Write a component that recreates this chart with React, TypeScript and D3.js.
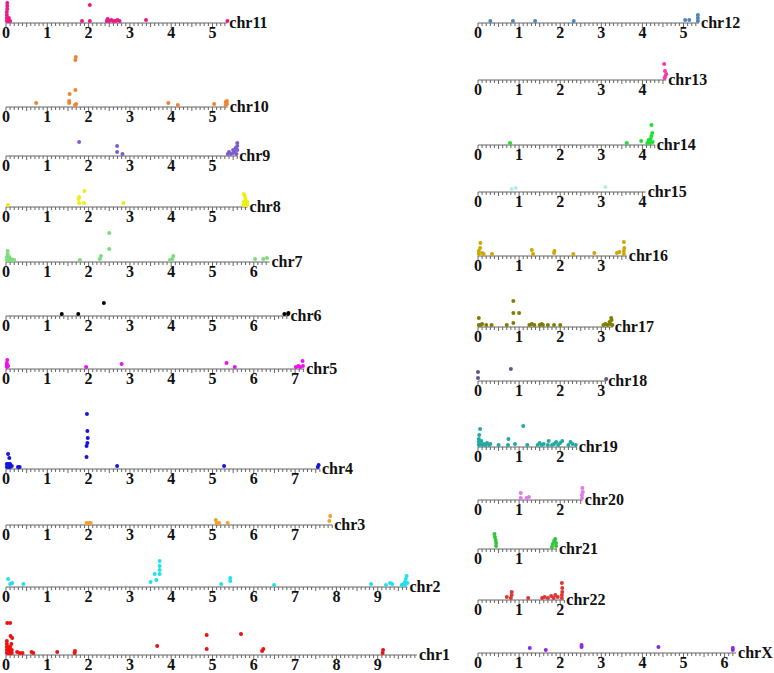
import * as d3 from 'd3';

// chromosome names, lengths (axis units) and colours
const leftChroms = ['chr11', 'chr10', 'chr9', 'chr8', 'chr7', 'chr6', 'chr5', 'chr4', 'chr3', 'chr2', 'chr1'];
const rightChroms = ['chr12', 'chr13', 'chr14', 'chr15', 'chr16', 'chr17', 'chr18', 'chr19', 'chr20', 'chr21', 'chr22', 'chrX'];

const lengths: Record<string, number> = {
  chr1: 9.95, chr2: 9.72, chr3: 7.9, chr4: 7.6, chr5: 7.22, chr6: 6.84, chr7: 6.38,
  chr8: 5.85, chr9: 5.6, chr10: 5.37, chr11: 5.36, chr12: 5.38, chr13: 4.58, chr14: 4.3,
  chr15: 4.08, chr16: 3.62, chr17: 3.28, chr18: 3.12, chr19: 2.4, chr20: 2.55,
  chr21: 1.92, chr22: 2.1, chrX: 6.28,
};

const colors: Record<string, string> = {
  chr1: '#ee1111', chr2: '#22e0ee', chr3: '#f2a22a', chr4: '#1515dd', chr5: '#ee11ee',
  chr6: '#000000', chr7: '#7ddc7d', chr8: '#eeee11', chr9: '#7f5ccc', chr10: '#f08530',
  chr11: '#ec1a86', chr12: '#4a86c0', chr13: '#f83aa8', chr14: '#22dd33', chr15: '#b0eeee',
  chr16: '#cca800', chr17: '#7e7e00', chr18: '#5a5a90', chr19: '#22aaa2', chr20: '#e07ae8',
  chr21: '#33c43a', chr22: '#e03535', chrX: '#8a2be2',
};

// points: [position, score]
const points: Record<string, [number, number][]> = {
  chr1: [[0.02, 2], [0.02, 5], [0.02, 8], [0.02, 11], [0.02, 14], [0.06, 2], [0.06, 5], [0.06, 8], [0.1, 2], [0.1, 5], [0.1, 8], [0.14, 2], [0.14, 5], [0.03, 32], [0.1, 32], [0.11, 19], [0.15, 17], [0.13, 11], [0.27, 3], [0.33, 2], [0.4, 2], [0.62, 3], [0.66, 2], [1.24, 3], [1.66, 2], [1.67, 4], [3.66, 9], [4.86, 6], [4.86, 20], [5.69, 21], [6.2, 4], [6.23, 6], [9.12, 2], [9.13, 5]],
  chr2: [[0.05, 8], [0.1, 3], [0.15, 4], [0.42, 3], [3.5, 5], [3.6, 13], [3.64, 7], [3.72, 13], [3.72, 17], [3.72, 21], [3.72, 26], [5.21, 3], [5.43, 6], [5.43, 9], [6.49, 2], [8.84, 3], [9.2, 2], [9.3, 4], [9.35, 3], [9.58, 2], [9.62, 3], [9.66, 2], [9.66, 5], [9.68, 8], [9.7, 11], [9.72, 4]],
  chr3: [[1.95, 2], [2.0, 2], [2.05, 2], [5.08, 5], [5.1, 2], [5.16, 2], [5.37, 2], [7.83, 4], [7.85, 9]],
  chr4: [[0.02, 2], [0.02, 5], [0.06, 2], [0.06, 5], [0.1, 2], [0.1, 5], [0.14, 3], [0.05, 15], [0.08, 11], [0.29, 2], [0.33, 2], [1.95, 12], [1.95, 23], [1.97, 26], [1.98, 31], [1.97, 38], [1.96, 55], [2.69, 3], [5.28, 3], [7.55, 2], [7.57, 4]],
  chr5: [[0.02, 2], [0.02, 4], [0.02, 6], [0.05, 3], [0.03, 9], [1.94, 2], [2.8, 5], [5.34, 6], [5.54, 2], [7.02, 2], [7.08, 3], [7.12, 2], [7.18, 8], [7.19, 3]],
  chr6: [[1.35, 2], [1.75, 2], [2.37, 13], [6.74, 2], [6.83, 2], [6.84, 3]],
  chr7: [[0.02, 2], [0.02, 5], [0.04, 8], [0.04, 11], [0.08, 2], [0.08, 5], [0.12, 3], [0.16, 2], [0.2, 2], [1.79, 2], [2.27, 3], [2.3, 6], [2.5, 13], [2.5, 29], [3.97, 2], [4.03, 3], [4.05, 6], [6.03, 3], [6.23, 3], [6.32, 4]],
  chr8: [[0.05, 2], [1.77, 4], [1.76, 8], [1.77, 10], [1.89, 4], [1.9, 16], [2.84, 4], [5.75, 2], [5.75, 5], [5.8, 2], [5.8, 5], [5.8, 8], [5.84, 2], [5.84, 5], [5.78, 11], [5.76, 13]],
  chr9: [[1.77, 14], [2.69, 10], [2.69, 4], [2.82, 2], [5.37, 2], [5.4, 4], [5.45, 2], [5.5, 3], [5.5, 6], [5.54, 4], [5.56, 8], [5.58, 2], [5.6, 6], [5.6, 10], [5.6, 13]],
  chr10: [[0.73, 4], [1.53, 4], [1.53, 6], [1.54, 13], [1.67, 2], [1.7, 3], [1.68, 17], [1.68, 47], [1.69, 50], [3.93, 4], [4.16, 2], [5.04, 3], [5.32, 2], [5.32, 5], [5.35, 3], [5.35, 6]],
  chr11: [[0.02, 2], [0.02, 5], [0.02, 8], [0.02, 11], [0.03, 14], [0.03, 17], [0.03, 20], [0.07, 2], [0.07, 5], [0.1, 2], [1.84, 2], [2.03, 2], [2.03, 18], [2.44, 2], [2.46, 4], [2.5, 2], [2.55, 3], [2.6, 2], [2.65, 2], [2.7, 3], [2.75, 2], [3.39, 3], [5.36, 2]],
  chr12: [[0.3, 2], [0.85, 2], [1.39, 2], [2.33, 2], [5.04, 3], [5.14, 3], [5.35, 2], [5.35, 5], [5.35, 8]],
  chr13: [[4.54, 2], [4.56, 4], [4.58, 6], [4.55, 9], [4.53, 16]],
  chr14: [[0.78, 2], [3.62, 2], [3.97, 4], [4.12, 2], [4.15, 5], [4.18, 2], [4.2, 6], [4.22, 9], [4.25, 3], [4.24, 12], [4.22, 20]],
  chr15: [[0.82, 3], [0.92, 4], [3.1, 5]],
  chr16: [[0.02, 2], [0.02, 5], [0.05, 8], [0.06, 13], [0.1, 3], [0.14, 2], [0.34, 2], [1.31, 6], [1.34, 2], [1.85, 3], [1.86, 5], [2.32, 2], [2.83, 3], [3.38, 3], [3.44, 4], [3.55, 2], [3.55, 5], [3.56, 8], [3.55, 14]],
  chr17: [[0.02, 2], [0.02, 9], [0.06, 2], [0.1, 3], [0.2, 2], [0.33, 2], [0.7, 2], [0.86, 4], [0.86, 14], [0.86, 26], [1.0, 14], [1.25, 2], [1.31, 3], [1.37, 2], [1.5, 2], [1.55, 3], [1.58, 2], [1.7, 2], [1.85, 2], [2.0, 2], [3.05, 2], [3.1, 3], [3.15, 2], [3.2, 5], [3.22, 3], [3.25, 7], [3.27, 2], [3.24, 9]],
  chr18: [[0.0, 3], [0.0, 9], [0.8, 12], [3.12, 2]],
  chr19: [[0.02, 2], [0.02, 5], [0.02, 8], [0.03, 12], [0.05, 18], [0.06, 3], [0.08, 6], [0.1, 2], [0.14, 3], [0.18, 2], [0.22, 4], [0.27, 2], [0.3, 3], [0.5, 2], [0.73, 2], [0.74, 8], [0.9, 3], [1.1, 21], [1.2, 2], [1.45, 2], [1.5, 4], [1.55, 2], [1.6, 3], [1.7, 2], [1.72, 6], [1.8, 2], [1.85, 3], [1.9, 5], [1.95, 2], [2.0, 4], [2.05, 6], [2.2, 2], [2.25, 5], [2.3, 3], [2.38, 2]],
  chr20: [[1.04, 2], [1.04, 7], [1.18, 2], [1.24, 3], [2.53, 2], [2.53, 5], [2.55, 8], [2.54, 12]],
  chr21: [[0.4, 15], [0.41, 12], [0.43, 9], [0.44, 6], [0.44, 3], [1.8, 2], [1.82, 5], [1.85, 8], [1.88, 10], [1.9, 3], [1.9, 6]],
  chr22: [[0.7, 3], [0.8, 2], [0.82, 5], [0.82, 8], [1.22, 2], [1.56, 2], [1.62, 3], [1.7, 2], [1.78, 4], [1.84, 2], [1.88, 5], [1.94, 3], [2.04, 2], [2.04, 5], [2.05, 8], [2.05, 12], [2.04, 17]],
  chrX: [[1.26, 5], [1.65, 3], [2.52, 6], [2.52, 8], [4.39, 6], [6.2, 3], [6.2, 5]],
};

// layout
const W = 774;
const H = 673;
const leftRows = [23, 107, 156, 207, 262, 316, 369, 469, 525, 587, 655];
const rightRows = [23, 80, 145, 192, 256, 327, 381, 447, 500, 549, 600, 653];
const FONT = '"Liberation Serif", "DejaVu Serif", serif';

function Track({ name, x0, y0, unit }: { name: string; x0: number; y0: number; unit: number }) {
  const len = lengths[name];
  const x = d3.scaleLinear().domain([0, len]).range([x0, x0 + len * unit]);
  const y = d3.scaleLinear().domain([0, 60]).range([y0, y0 - 60]);
  const ticks = d3.range(0, Math.floor(len * 10 + 1e-6) + 1).map((i) => i / 10);
  const labels = d3.range(0, Math.floor(len) + 1);
  return (
    <g>
      <line x1={x(0)} x2={x(len)} y1={y0} y2={y0} stroke="#666" strokeWidth={1} />
      {ticks.map((t, i) => {
        const size = i % 10 === 0 ? 5 : i % 5 === 0 ? 4 : 3;
        return (
          <line key={i} x1={x(t)} x2={x(t)} y1={y0} y2={y0 + size} stroke="#666" strokeWidth={1} />
        );
      })}
      {labels.map((l) => (
        <text key={l} x={x(l)} y={y0 + 15} textAnchor="middle" fontFamily={FONT} fontWeight="bold" fontSize={16} fill="#111">
          {l}
        </text>
      ))}
      {points[name].map((p, i) => (
        <circle key={i} cx={x(p[0])} cy={y(p[1])} r={2} fill={colors[name]} />
      ))}
      <text x={x(len) + 2} y={y0 + 5} fontFamily={FONT} fontWeight="bold" fontSize={16} fill="#111">
        {name}
      </text>
    </g>
  );
}

export default function App() {
  return (
    <svg width={W} height={H} style={{ position: 'absolute', left: 0, top: 0, background: '#fff' }}>
      {leftChroms.map((c, i) => (
        <Track key={c} name={c} x0={6} y0={leftRows[i]} unit={41.3} />
      ))}
      {rightChroms.map((c, i) => (
        <Track key={c} name={c} x0={478} y0={rightRows[i]} unit={41.1} />
      ))}
    </svg>
  );
}
